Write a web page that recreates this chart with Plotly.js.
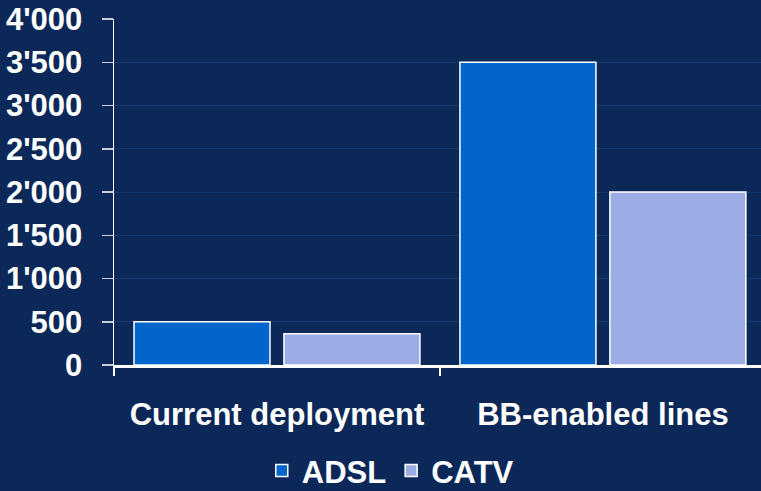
<!DOCTYPE html>
<html>
<head>
<meta charset="utf-8">
<script src="https://cdn.plot.ly/plotly-3.0.1.min.js"></script>
<style>html,body{margin:0;padding:0;background:#0b2858;}#chart{width:761px;height:491px;}</style>
</head>
<body>
<div id="chart"></div>
<script>
const categories = ["Current deployment", "BB-enabled lines"];
const adslValues = [500, 3500];
const catvValues = [360, 2000];
const seriesNames = ["ADSL", "CATV"];
const yTickValues = [0, 500, 1000, 1500, 2000, 2500, 3000, 3500, 4000];

const fontFam = "Liberation Sans, Arial, sans-serif";
const traces = [
  {type: "bar", name: seriesNames[0], x: categories, y: adslValues,
   marker: {color: "#0066cc", line: {color: "#ffffff", width: 1.5}}},
  {type: "bar", name: seriesNames[1], x: categories, y: catvValues,
   marker: {color: "#9cace4", line: {color: "#ffffff", width: 1.5}}}
];
const layout = {
  width: 761, height: 491,
  paper_bgcolor: "#0b2858", plot_bgcolor: "#0b2858",
  margin: {l: 114, r: 0, t: 19, b: 126, autoexpand: false},
  separators: ".'",
  barmode: "group", bargap: 0.08, bargroupgap: 0.093,
  font: {family: fontFam, color: "#ffffff", size: 31},
  xaxis: {
    type: "category", range: [-0.5, 1.485],
    showline: true, linecolor: "#ffffff", linewidth: 2.5,
    ticks: "outside", tickson: "boundaries", ticklen: 8, tickwidth: 2.5, tickcolor: "#ffffff",
    ticklabelstandoff: 20,
    tickfont: {family: fontFam, size: 31, color: "#ffffff", weight: "bold"},
    showgrid: false, zeroline: false, fixedrange: true, automargin: false
  },
  yaxis: {
    range: [0, 4000], tickvals: yTickValues, tickformat: ",d",
    showline: true, linecolor: "#ffffff", linewidth: 1.5,
    ticks: "outside", ticklen: 11, tickwidth: 1.5, tickcolor: "#c8ccd6",
    ticklabelstandoff: 13,
    tickfont: {family: fontFam, size: 31, color: "#ffffff", weight: "bold"},
    showgrid: true, gridcolor: "#0e3a70", gridwidth: 1, zeroline: false, fixedrange: true, automargin: false
  },
  showlegend: true,
  legend: {
    orientation: "h", x: 0.427, xanchor: "center", y: -0.306, yanchor: "middle",
    font: {family: fontFam, size: 31, color: "#ffffff", weight: "bold"},
    bgcolor: "rgba(0,0,0,0)", itemwidth: 30, traceorder: "normal"
  }
};
Plotly.newPlot("chart", traces, layout, {displayModeBar: false, staticPlot: true});
</script>
</body>
</html>
